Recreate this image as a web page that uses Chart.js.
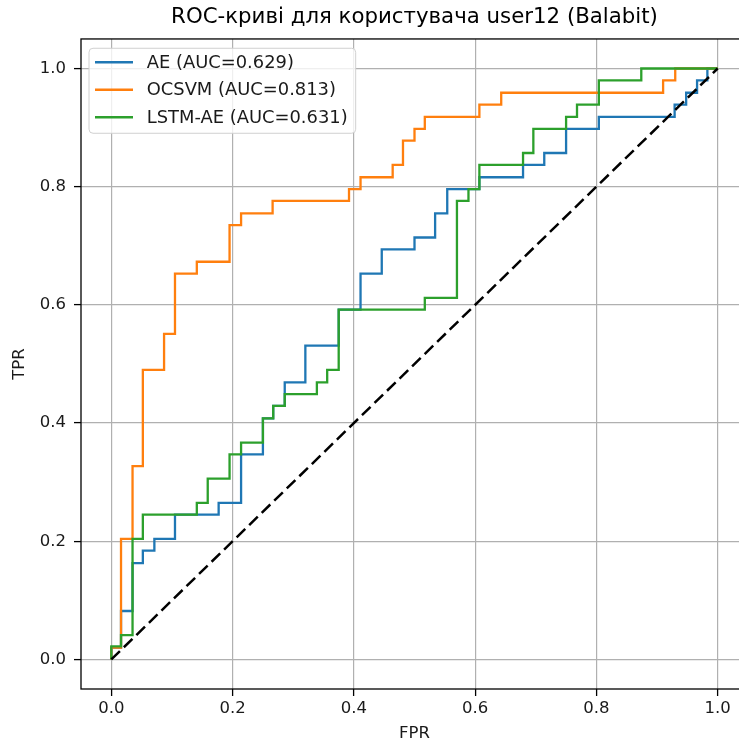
<!DOCTYPE html>
<html>
<head>
<meta charset="utf-8">
<script src="https://cdn.jsdelivr.net/npm/chart.js@4/dist/chart.umd.min.js"></script>
<style>
  html, body { margin: 0; padding: 0; background: #fff; overflow: hidden; }
  #wrap { width: 739px; height: 742px; overflow: hidden; position: relative; }
  #roc { display: block; }
</style>
</head>
<body>
<div id="wrap"><canvas id="roc" width="829" height="742"></canvas></div>
<script>
// ── Data (ROC corner points) ─────────────────────────────────────────────
var titleText  = 'ROC-криві для користувача user12 (Balabit)';
var tickValues = [0, 0.2, 0.4, 0.6, 0.8, 1.0];
var tickLabels = ['0.0', '0.2', '0.4', '0.6', '0.8', '1.0'];

var seriesNames  = ['AE (AUC=0.629)', 'OCSVM (AUC=0.813)', 'LSTM-AE (AUC=0.631)'];
var seriesColors = ['#1f77b4', '#ff7f0e', '#2ca02c'];

var aeFpr = [0, 0, 0.016, 0.016, 0.035, 0.035, 0.052, 0.052, 0.071, 0.071, 0.105, 0.105,
  0.177, 0.177, 0.214, 0.214, 0.25, 0.25, 0.267, 0.267, 0.286, 0.286, 0.32, 0.32,
  0.375, 0.375, 0.411, 0.411, 0.446, 0.446, 0.5, 0.5, 0.534, 0.534, 0.554, 0.554,
  0.607, 0.607, 0.679, 0.679, 0.714, 0.714, 0.75, 0.75, 0.804, 0.804, 0.929, 0.929,
  0.948, 0.948, 0.966, 0.966, 0.983, 0.983, 1];
var aeTpr = [0, 0.02, 0.02, 0.082, 0.082, 0.163, 0.163, 0.184, 0.184, 0.204, 0.204, 0.245,
  0.245, 0.265, 0.265, 0.347, 0.347, 0.408, 0.408, 0.429, 0.429, 0.469, 0.469, 0.531,
  0.531, 0.592, 0.592, 0.653, 0.653, 0.694, 0.694, 0.714, 0.714, 0.755, 0.755, 0.796,
  0.796, 0.816, 0.816, 0.837, 0.837, 0.857, 0.857, 0.898, 0.898, 0.918, 0.918, 0.939,
  0.939, 0.959, 0.959, 0.98, 0.98, 1, 1];

var ocsvmFpr = [0, 0, 0.016, 0.016, 0.035, 0.035, 0.052, 0.052, 0.087, 0.087, 0.105, 0.105,
  0.141, 0.141, 0.195, 0.195, 0.214, 0.214, 0.266, 0.266, 0.392, 0.392, 0.411, 0.411,
  0.464, 0.464, 0.481, 0.481, 0.5, 0.5, 0.517, 0.517, 0.607, 0.607, 0.643, 0.643,
  0.91, 0.91, 0.93, 0.93, 1];
var ocsvmTpr = [0, 0.02, 0.02, 0.204, 0.204, 0.327, 0.327, 0.49, 0.49, 0.551, 0.551, 0.653,
  0.653, 0.673, 0.673, 0.735, 0.735, 0.755, 0.755, 0.776, 0.776, 0.796, 0.796, 0.816,
  0.816, 0.837, 0.837, 0.878, 0.878, 0.898, 0.898, 0.918, 0.918, 0.939, 0.939, 0.959,
  0.959, 0.98, 0.98, 1, 1];

var lstmFpr = [0, 0, 0.016, 0.016, 0.035, 0.035, 0.052, 0.052, 0.141, 0.141, 0.159, 0.159,
  0.195, 0.195, 0.214, 0.214, 0.25, 0.25, 0.267, 0.267, 0.286, 0.286, 0.339, 0.339,
  0.356, 0.356, 0.375, 0.375, 0.517, 0.517, 0.57, 0.57, 0.589, 0.589, 0.607, 0.607,
  0.679, 0.679, 0.696, 0.696, 0.75, 0.75, 0.768, 0.768, 0.804, 0.804, 0.874, 0.874, 1];
var lstmTpr = [0, 0.022, 0.022, 0.041, 0.041, 0.204, 0.204, 0.245, 0.245, 0.265, 0.265, 0.306,
  0.306, 0.347, 0.347, 0.367, 0.367, 0.408, 0.408, 0.429, 0.429, 0.449, 0.449, 0.469,
  0.469, 0.49, 0.49, 0.592, 0.592, 0.612, 0.612, 0.776, 0.776, 0.796, 0.796, 0.837,
  0.837, 0.857, 0.857, 0.898, 0.898, 0.918, 0.918, 0.939, 0.939, 0.98, 0.98, 1, 1];

var chanceFpr = [0, 1];
var chanceTpr = [0, 1];

// ── Helpers ───────────────────────────────────────────────────────────────
var FONT = '"DejaVu Sans", "Liberation Sans", sans-serif';

function toPoints(xs, ys) {
  return xs.map(function(x, i) { return { x: x, y: ys[i] }; });
}

function curve(label, xs, ys, color, order) {
  return {
    label:       label,
    data:        toPoints(xs, ys),
    borderColor: color,
    borderWidth: 2.3,
    pointRadius: 0,
    showLine:    true,
    tension:     0,
    fill:        false,
    order:       order,
  };
}

// Axes frame (all four spines; right one sits past the window edge)
var framePlugin = {
  id: 'frame',
  afterDatasetsDraw: function(chart) {
    var a = chart.chartArea, ctx = chart.ctx;
    ctx.save();
    ctx.strokeStyle = '#000';
    ctx.lineWidth = 1.3;
    ctx.strokeRect(a.left, a.top, a.right - a.left, a.bottom - a.top);
    ctx.restore();
  }
};

// Legend box in the upper-left corner of the axes
var legendPlugin = {
  id: 'legendBox',
  afterDraw: function(chart) {
    var a = chart.chartArea, ctx = chart.ctx;
    var x0 = a.left + 8, y0 = a.top + 9.3;
    ctx.save();
    ctx.font = '17.9px ' + FONT;
    var w = 0;
    seriesNames.forEach(function(n) { w = Math.max(w, ctx.measureText(n).width); });
    var bw = w + 57.7 + 8, bh = 85, r = 4;
    ctx.beginPath();
    ctx.moveTo(x0 + r, y0);
    ctx.arcTo(x0 + bw, y0, x0 + bw, y0 + bh, r);
    ctx.arcTo(x0 + bw, y0 + bh, x0, y0 + bh, r);
    ctx.arcTo(x0, y0 + bh, x0, y0, r);
    ctx.arcTo(x0, y0, x0 + bw, y0, r);
    ctx.closePath();
    ctx.fillStyle = 'rgba(255,255,255,0.8)';
    ctx.fill();
    ctx.strokeStyle = '#d0d0d0';
    ctx.lineWidth = 1;
    ctx.stroke();

    ctx.textBaseline = 'middle';
    ctx.textAlign = 'left';
    seriesNames.forEach(function(n, i) {
      var y = y0 + 14 + i * 27.5;
      ctx.beginPath();
      ctx.moveTo(x0 + 6, y);
      ctx.lineTo(x0 + 44, y);
      ctx.strokeStyle = seriesColors[i];
      ctx.lineWidth = 2.3;
      ctx.stroke();
      ctx.fillStyle = '#1a1a1a';
      ctx.fillText(n, x0 + 57.7, y + 1);
    });
    ctx.restore();
  }
};

function fixedTicks(scale) {
  scale.ticks = tickValues.map(function(v) { return { value: v }; });
}

var gridOpts = {
  color:      '#b0b0b0',
  lineWidth:  1.2,
  tickColor:  '#000',
  tickLength: 7,
  tickWidth:  1.3,
};

new Chart(document.getElementById('roc'), {
  type: 'scatter',
  data: {
    datasets: [
      {
        label:       'chance',
        data:        toPoints(chanceFpr, chanceTpr),
        borderColor: '#000',
        borderWidth: 2.5,
        borderDash:  [12, 5.5],
        pointRadius: 0,
        showLine:    true,
        fill:        false,
        order:       0,
      },
      curve(seriesNames[2], lstmFpr, lstmTpr, seriesColors[2], 1),
      curve(seriesNames[1], ocsvmFpr, ocsvmTpr, seriesColors[1], 2),
      curve(seriesNames[0], aeFpr, aeTpr, seriesColors[0], 3),
    ]
  },
  options: {
    responsive: false,
    animation:  false,
    events:     [],
    layout: { padding: 0 },
    plugins: {
      legend:  { display: false },
      tooltip: { enabled: false },
      title: {
        display: true,
        text:    titleText,
        color:   '#000',
        font:    { family: FONT, size: 21.3, weight: 'normal' },
        padding: { top: 5, bottom: 8.4 },
      },
    },
    scales: {
      x: {
        type: 'linear',
        min:  -0.05,
        max:  1.05,
        afterBuildTicks: fixedTicks,
        afterFit: function(scale) { scale.height = 53; },
        border: { display: false },
        grid:   gridOpts,
        ticks: {
          color:   '#1a1a1a',
          font:    { family: FONT, size: 16.5 },
          padding: 3,
          maxRotation: 0,
          callback: function(v, i) { return tickLabels[i]; },
        },
        title: {
          display: true,
          text:    'FPR',
          color:   '#1a1a1a',
          font:    { family: FONT, size: 16.5, lineHeight: 1 },
          padding: { top: 0, bottom: 0 },
        },
      },
      y: {
        type: 'linear',
        min:  -0.05,
        max:  1.05,
        afterBuildTicks: fixedTicks,
        afterFit: function(scale) { scale.width = 81; },
        border: { display: false },
        grid:   gridOpts,
        ticks: {
          color:   '#1a1a1a',
          font:    { family: FONT, size: 16.5 },
          padding: 8,
          callback: function(v, i) { return tickLabels[i]; },
        },
        title: {
          display: true,
          text:    'TPR',
          color:   '#1a1a1a',
          font:    { family: FONT, size: 16.5 },
          padding: { top: 10, bottom: 0 },
        },
      },
      // empty right-hand box so the axes (and the centred title) match the figure margins
      spacer: {
        type:     'linear',
        position: 'right',
        min: 0,
        max: 1,
        afterFit: function(scale) { scale.width = 81; },
        border: { display: false },
        grid:   { display: false },
        ticks:  { display: false },
      },
    },
  },
  plugins: [framePlugin, legendPlugin],
});
</script>
</body>
</html>
